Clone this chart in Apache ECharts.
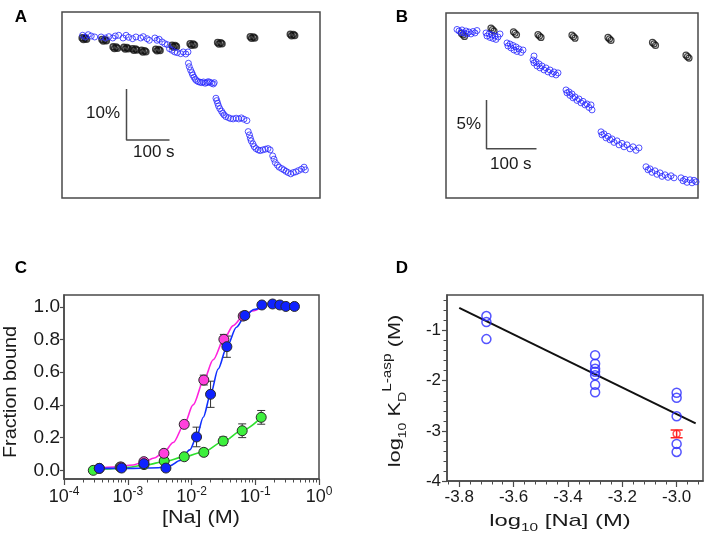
<!DOCTYPE html>
<html><head><meta charset="utf-8">
<script src="https://cdn.jsdelivr.net/npm/echarts@6/dist/echarts.min.js"></script>
<style>html,body{margin:0;padding:0;background:#fff}#c{width:709px;height:541px}</style>
</head><body><div id="c"></div>
<script>
// ---------- Panel A (time in s, signal change in %) ----------
const aBlueT = [48,54,61,68,76,91,101,109,118,124,132,142,149,155,164,172,183,189,198,203,216,221,226,233,239,245,250,256,262,268,276,282,288,293,
294,296,299,302,304,307,310,313,317,321,325,329,333,337,340,344,348,352,354,
358,360,362,364,367,371,374,377,381,387,392,398,405,411,417,423,430,
433,436,438,440,444,447,451,456,461,467,473,479,484,
490,493,496,501,505,511,516,521,526,532,538,544,550,557,563,566];
const aBlueV = [-0.27,-0.60,-0.15,-0.41,-0.60,-0.60,-0.80,-0.54,-0.80,-0.41,-0.27,-0.80,-0.27,-0.66,-0.94,-0.60,-0.80,-0.54,-0.94,-1.25,-0.80,-1.25,-1.05,-1.58,-1.92,-2.11,-2.90,-3.21,-3.54,-3.68,-3.88,-3.54,-3.94,-3.54,
-5.76,-6.43,-7.07,-7.60,-8.05,-8.50,-8.90,-9.17,-9.37,-9.48,-9.56,-9.43,-9.68,-9.56,-9.37,-9.48,-9.68,-9.82,-9.56,
-12.62,-13.09,-13.60,-14.13,-14.66,-15.17,-15.56,-15.90,-16.23,-16.43,-16.62,-16.68,-16.54,-16.68,-16.48,-16.74,-17.01,
-19.17,-19.82,-20.46,-20.99,-21.58,-22.11,-22.50,-22.76,-22.90,-22.76,-22.62,-22.50,-22.76,
-23.94,-24.58,-25.25,-25.76,-26.15,-26.43,-26.68,-26.97,-27.21,-27.46,-27.21,-27.07,-26.82,-26.54,-26.15,-26.68];
const aBlackT = [47,50,54,57, 93,96,100,103, 119,122,126,129, 144,147,151,154, 164,167,171,174, 185,188,192,195, 218,221,225,228, 256,259,263,266, 298,301,305,308, 362,365,369,372, 438,441,445,448, 531,534,538,541];
const aBlackV = [-0.78,-1.08,-0.83,-1.03, -1.10,-1.40,-1.15,-1.35, -2.55,-2.85,-2.60,-2.80, -2.65,-2.95,-2.70,-2.90, -2.90,-3.20,-2.95,-3.15, -3.24,-3.54,-3.29,-3.49, -3.00,-3.30,-3.05,-3.25, -2.25,-2.55,-2.30,-2.50, -1.92,-2.22,-1.97,-2.17, -1.69,-1.99,-1.74,-1.94, -0.55,-0.85,-0.60,-0.80, -0.06,-0.36,-0.11,-0.31];
const aScaleT = [150,150,250];
const aScaleV = [-10.8,-20.8,-20.8];

// ---------- Panel B ----------
const bBlueT = [22,26,30,32,36,40,42,46,50,54,58,62,
80,82,86,88,92,94,98,100,104,108,
122,124,128,130,134,136,140,142,146,150,154,
176,174,176,180,182,186,188,192,196,200,204,208,212,216,220,224,
240,242,246,248,252,254,258,262,266,270,274,278,282,286,290,292,
310,312,316,320,324,328,332,336,342,346,352,356,362,368,374,380,386,
400,404,408,412,418,422,428,432,438,444,450,456,
470,474,478,482,488,492,496,500];
const bBlueV = [0.02,-0.14,-0.29,-0.03,-0.34,-0.14,-0.44,-0.24,-0.44,-0.19,-0.34,-0.09,
-0.34,-0.65,-0.44,-0.80,-0.55,-0.90,-0.65,-1.00,-0.75,-0.44,
-1.36,-1.67,-1.47,-1.87,-1.62,-2.08,-1.77,-2.23,-1.97,-2.33,-2.08,
-2.69,-3.10,-3.40,-3.30,-3.71,-3.50,-3.91,-3.71,-4.12,-3.91,-4.32,-4.12,-4.52,-4.32,-4.63,-4.42,
-6.16,-6.46,-6.36,-6.72,-6.57,-6.97,-6.87,-7.23,-7.08,-7.48,-7.33,-7.69,-7.59,-7.95,-7.69,-8.20,
-10.44,-10.75,-10.65,-11.06,-10.90,-11.26,-11.16,-11.52,-11.36,-11.77,-11.62,-11.97,-11.77,-12.18,-11.97,-12.33,-12.08,
-14.01,-14.32,-14.22,-14.58,-14.42,-14.78,-14.63,-14.99,-14.83,-15.09,-14.93,-15.14,
-15.14,-15.44,-15.29,-15.60,-15.34,-15.65,-15.39,-15.55];
const bBlackT = [31,34,37, 90,93,96, 135,138,141, 184,187,190, 252,255,258, 324,327,330, 413,416,419, 480,483,486];
const bBlackV = [-0.39,-0.54,-0.69, 0.15,0.0,-0.15, -0.22,-0.37,-0.52, -0.50,-0.65,-0.80, -0.57,-0.72,-0.87, -0.80,-0.95,-1.10, -1.31,-1.46,-1.61, -2.61,-2.76,-2.91];
const bScaleT = [81,81,181];
const bScaleV = [-7.18,-12.18,-12.18];

// ---------- Panel C ([Na] in M, fraction bound) ----------
const concPink = [3.58e-4, 7.9e-4, 1.79e-3, 3.69e-3, 7.69e-3, 0.0156, 0.0322, 0.0647];
const fracPink = [0.012, 0.02, 0.053, 0.104, 0.281, 0.552, 0.801, 0.943];
const errPink  = [0.008, 0.008, 0.012, 0.012, 0.015, 0.03, 0.03, 0.015];
const concBlue = [3.58e-4, 8.0e-4, 1.79e-3, 3.97e-3, 0.0120, 0.0199, 0.0359, 0.0687, 0.127, 0.187, 0.243, 0.302, 0.412];
const fracBlue = [0.012, 0.014, 0.041, 0.014, 0.204, 0.465, 0.756, 0.947, 1.011, 1.017, 1.011, 1.002, 1.002];
const errBlue  = [0.005, 0.005, 0.01, 0.01, 0.06, 0.08, 0.065, 0.02, 0.01, 0, 0, 0, 0];
const concGreen = [2.88e-4, 7.6e-4, 1.8e-3, 3.73e-3, 7.69e-3, 0.0156, 0.0314, 0.0624, 0.124];
const fracGreen = [0.0, 0.02, 0.035, 0.057, 0.083, 0.110, 0.179, 0.242, 0.324];
const errGreen  = [0.005, 0.005, 0.005, 0.01, 0.012, 0.02, 0.025, 0.042, 0.042];
const fitPinkX = [3.3e-4, 6e-4, 1.22e-3, 1.79e-3, 2.6e-3, 3.69e-3, 5.17e-3, 7.69e-3, 0.0106, 0.0156, 0.0219, 0.0322, 0.0451, 0.0647, 0.09, 0.13];
const fitPinkY = [0.012, 0.02, 0.033, 0.052, 0.075, 0.11, 0.17, 0.28, 0.40, 0.552, 0.676, 0.801, 0.885, 0.943, 0.975, 1.0];
const fitBlueX = [3.0e-4, 1.2e-3, 3.0e-3, 4.6e-3, 6.6e-3, 9.4e-3, 0.012, 0.0153, 0.0199, 0.0262, 0.0359, 0.0508, 0.0687, 0.095, 0.13];
const fitBlueY = [0.012, 0.012, 0.016, 0.028, 0.06, 0.125, 0.204, 0.325, 0.465, 0.62, 0.756, 0.875, 0.943, 0.983, 1.0];
const fitGreenX = [2.9e-4, 5e-4, 1e-3, 2e-3, 3.73e-3, 7.69e-3, 0.0156, 0.0314, 0.0624, 0.124];
const fitGreenY = [0.003, 0.008, 0.018, 0.034, 0.054, 0.082, 0.114, 0.176, 0.245, 0.324];
const cExpTicks = [-4, -3, -2, -1, 0];
const cYTicks = [0, 0.2, 0.4, 0.6, 0.8, 1.0];

// ---------- Panel D ----------
const dX = [-3.7,-3.7,-3.7, -3.3,-3.3,-3.3,-3.3,-3.3,-3.3,-3.3, -3.0,-3.0,-3.0,-3.0,-3.0];
const dY = [-0.71,-0.83,-1.17, -1.49,-1.66,-1.76,-1.82,-1.89,-2.08,-2.23, -2.24,-2.34,-2.71,-3.26,-3.42];
const dRedX = [-3.0];
const dRedY = [-3.06];
const dRedErr = [0.077];
const dFitX = [-3.8, -2.93];
const dFitY = [-0.545, -2.85];
const dXTicks = [-3.8, -3.6, -3.4, -3.2, -3.0];
const dYTicks = [-4, -3, -2, -1];

// ---------- build ----------
const FONT = '"Liberation Sans", Arial, Helvetica, sans-serif';
const TXT = '#1a1a1a';
const FRAME = '#4a4a4a';
const zip = (a, b) => a.map((v, i) => [v, b[i]]);
const lg = v => Math.log10(v);

const cMinor = [];
for (let n = -4; n < 0; n++) for (let k = 2; k <= 9; k++) cMinor.push(n + Math.log10(k));
const dXMinor = [];
for (let i = 0; i <= 23; i++) dXMinor.push(+(-3.84 + i * 0.04).toFixed(2));
const dYMinor = [];
for (let i = 0; i <= 18; i++) dYMinor.push(+(-4 + i * 0.2).toFixed(1));

function errRenderer(color, cap, lw) {
  return function (params, api) {
    const x = api.value(0), lo = api.value(1), hi = api.value(2);
    const a = api.coord([x, lo]), b = api.coord([x, hi]);
    const st = { stroke: color, lineWidth: lw };
    return { type: 'group', children: [
      { type: 'line', shape: { x1: a[0], y1: a[1], x2: b[0], y2: b[1] }, style: st },
      { type: 'line', shape: { x1: a[0] - cap, y1: a[1], x2: a[0] + cap, y2: a[1] }, style: st },
      { type: 'line', shape: { x1: b[0] - cap, y1: b[1], x2: b[0] + cap, y2: b[1] }, style: st }
    ]};
  };
}
const errData = (xs, ys, es, tx) => xs.map((x, i) => [tx(x), ys[i] - es[i], ys[i] + es[i]]).filter((d, i) => es[i] > 0);

const gridBase = { show: true, borderColor: FRAME, borderWidth: 1.5, backgroundColor: 'transparent', containLabel: false, outerBoundsMode: 'none' };
const hiddenAx = (gi, mn, mx) => ({ gridIndex: gi, type: 'value', min: mn, max: mx, show: false, splitLine: { show: false } });
const tickLbl = { color: TXT, fontFamily: FONT };

const option = {
  animation: false,
  backgroundColor: '#fff',
  grid: [
    Object.assign({ left: 62, top: 12, width: 258, height: 186 }, gridBase),
    Object.assign({ left: 446, top: 13, width: 252, height: 185 }, gridBase),
    Object.assign({ left: 64, top: 295, width: 255, height: 184 }, gridBase),
    Object.assign({ left: 447, top: 295, width: 256, height: 186 }, gridBase)
  ],
  xAxis: [
    hiddenAx(0, 0, 600),
    hiddenAx(1, 0, 504),
    { gridIndex: 2, type: 'value', min: -4, max: 0, position: 'bottom',
      axisLine: { show: true, onZero: false, lineStyle: { color: FRAME, width: 1.5 } },
      splitLine: { show: false },
      axisTick: { show: true, length: 6, customValues: cExpTicks, lineStyle: { color: FRAME, width: 1.2 } },
      axisLabel: { customValues: cExpTicks, margin: 7, color: TXT,
        formatter: v => '{b|10}{s|' + v + '}',
        rich: { b: { fontSize: 18, fontFamily: FONT, color: TXT, lineHeight: 22 },
                s: { fontSize: 12, fontFamily: FONT, color: TXT, verticalAlign: 'top' } } } },
    { gridIndex: 2, type: 'value', min: -4, max: 0, position: 'bottom',
      axisLine: { show: false, onZero: false }, splitLine: { show: false }, axisLabel: { show: false },
      axisTick: { show: true, length: 3.5, customValues: cMinor, lineStyle: { color: FRAME, width: 1 } } },
    { gridIndex: 3, type: 'value', min: -3.845, max: -2.903, position: 'bottom',
      axisLine: { show: true, onZero: false, lineStyle: { color: FRAME, width: 1.5 } },
      splitLine: { show: false },
      axisTick: { show: true, length: 6, customValues: dXTicks, lineStyle: { color: FRAME, width: 1.2 } },
      axisLabel: Object.assign({ customValues: dXTicks, margin: 8, fontSize: 17, formatter: v => v.toFixed(1) }, tickLbl) },
    { gridIndex: 3, type: 'value', min: -3.845, max: -2.903, position: 'bottom',
      axisLine: { show: false, onZero: false }, splitLine: { show: false }, axisLabel: { show: false },
      axisTick: { show: true, length: 3.5, customValues: dXMinor, lineStyle: { color: FRAME, width: 1 } } }
  ],
  yAxis: [
    hiddenAx(0, -32.2, 4.3),
    hiddenAx(1, -17.2, 1.7),
    { gridIndex: 2, type: 'value', min: -0.053, max: 1.072, position: 'left',
      axisLine: { show: true, onZero: false, lineStyle: { color: FRAME, width: 1.5 } },
      splitLine: { show: false },
      axisTick: { show: true, length: 4, customValues: cYTicks, lineStyle: { color: FRAME, width: 1.2 } },
      axisLabel: Object.assign({ customValues: cYTicks, margin: 4, fontSize: 19, formatter: v => v.toFixed(1) }, tickLbl) },
    { gridIndex: 3, type: 'value', min: -4, max: -0.29, position: 'left',
      axisLine: { show: true, onZero: false, lineStyle: { color: FRAME, width: 1.5 } },
      splitLine: { show: false },
      axisTick: { show: true, length: 5, customValues: dYTicks, lineStyle: { color: FRAME, width: 1.2 } },
      axisLabel: Object.assign({ customValues: dYTicks, margin: 6, fontSize: 17 }, tickLbl) },
    { gridIndex: 3, type: 'value', min: -4, max: -0.29, position: 'left',
      axisLine: { show: false, onZero: false }, splitLine: { show: false }, axisLabel: { show: false },
      axisTick: { show: true, length: 3.5, customValues: dYMinor, lineStyle: { color: FRAME, width: 1 } } }
  ],
  series: [
    // Panel A
    { type: 'scatter', xAxisIndex: 0, yAxisIndex: 0, data: zip(aBlackT, aBlackV), symbolSize: 6,
      itemStyle: { color: 'rgba(255,255,255,0)', borderColor: '#111', borderWidth: 1.6 } },
    { type: 'scatter', xAxisIndex: 0, yAxisIndex: 0, data: zip(aBlueT, aBlueV), symbolSize: 6,
      itemStyle: { color: 'rgba(255,255,255,0)', borderColor: '#2828ff', borderWidth: 1 } },
    { type: 'line', xAxisIndex: 0, yAxisIndex: 0, data: zip(aScaleT, aScaleV), symbol: 'none',
      lineStyle: { color: FRAME, width: 1.5 } },
    // Panel B
    { type: 'scatter', xAxisIndex: 1, yAxisIndex: 1, data: zip(bBlackT, bBlackV), symbolSize: 6,
      itemStyle: { color: 'rgba(255,255,255,0)', borderColor: '#111', borderWidth: 1.2 } },
    { type: 'scatter', xAxisIndex: 1, yAxisIndex: 1, data: zip(bBlueT, bBlueV), symbolSize: 6,
      itemStyle: { color: 'rgba(255,255,255,0)', borderColor: '#2828ff', borderWidth: 1 } },
    { type: 'line', xAxisIndex: 1, yAxisIndex: 1, data: zip(bScaleT, bScaleV), symbol: 'none',
      lineStyle: { color: FRAME, width: 1.5 } },
    // Panel C error bars
    { type: 'custom', xAxisIndex: 2, yAxisIndex: 2, renderItem: errRenderer('#333', 4, 1), z: 1,
      encode: { x: 0, y: [1, 2] }, data: errData(concGreen, fracGreen, errGreen, lg) },
    { type: 'custom', xAxisIndex: 2, yAxisIndex: 2, renderItem: errRenderer('#333', 4, 1), z: 1,
      encode: { x: 0, y: [1, 2] }, data: errData(concPink, fracPink, errPink, lg) },
    { type: 'custom', xAxisIndex: 2, yAxisIndex: 2, renderItem: errRenderer('#333', 4, 1), z: 1,
      encode: { x: 0, y: [1, 2] }, data: errData(concBlue, fracBlue, errBlue, lg) },
    // Panel C fits
    { type: 'line', xAxisIndex: 2, yAxisIndex: 2, data: fitGreenX.map((x, i) => [lg(x), fitGreenY[i]]),
      symbol: 'none', smooth: 0.3, smoothMonotone: 'x', lineStyle: { color: '#2ee02e', width: 1.6 }, z: 2 },
    { type: 'line', xAxisIndex: 2, yAxisIndex: 2, data: fitPinkX.map((x, i) => [lg(x), fitPinkY[i]]),
      symbol: 'none', smooth: 0.3, smoothMonotone: 'x', lineStyle: { color: '#ff22dd', width: 1.6 }, z: 2 },
    { type: 'line', xAxisIndex: 2, yAxisIndex: 2, data: fitBlueX.map((x, i) => [lg(x), fitBlueY[i]]),
      symbol: 'none', smooth: 0.3, smoothMonotone: 'x', lineStyle: { color: '#1030ff', width: 1.6 }, z: 2 },
    // Panel C points
    { type: 'scatter', xAxisIndex: 2, yAxisIndex: 2, data: concGreen.map((x, i) => [lg(x), fracGreen[i]]),
      symbolSize: 10, itemStyle: { color: '#3df03d', borderColor: '#2a2a2a', borderWidth: 1, opacity: 1 }, z: 3 },
    { type: 'scatter', xAxisIndex: 2, yAxisIndex: 2, data: concPink.map((x, i) => [lg(x), fracPink[i]]),
      symbolSize: 10, itemStyle: { color: '#ff40dc', borderColor: '#2a2a2a', borderWidth: 1, opacity: 1 }, z: 3 },
    { type: 'scatter', xAxisIndex: 2, yAxisIndex: 2, data: concBlue.map((x, i) => [lg(x), fracBlue[i]]),
      symbolSize: 10, itemStyle: { color: '#0f22ff', borderColor: '#2a2a2a', borderWidth: 1, opacity: 1 }, z: 3 },
    // Panel D
    { type: 'line', xAxisIndex: 4, yAxisIndex: 3, data: zip(dFitX, dFitY), symbol: 'none',
      lineStyle: { color: '#111', width: 2 }, z: 2 },
    { type: 'scatter', xAxisIndex: 4, yAxisIndex: 3, data: zip(dX, dY), symbolSize: 9,
      itemStyle: { color: 'rgba(255,255,255,0)', borderColor: '#2a2aff', borderWidth: 1.5 }, z: 3 },
    { type: 'custom', xAxisIndex: 4, yAxisIndex: 3, renderItem: errRenderer('#ff2020', 6, 1.5), z: 3,
      encode: { x: 0, y: [1, 2] }, data: errData(dRedX, dRedY, dRedErr, v => v) },
    { type: 'scatter', xAxisIndex: 4, yAxisIndex: 3, data: zip(dRedX, dRedY), symbolSize: 7,
      itemStyle: { color: 'rgba(255,255,255,0)', borderColor: '#ff2020', borderWidth: 1.5 }, z: 4 }
  ],
  graphic: [
    { type: 'text', x: 21, y: 17, style: { text: 'A', fontSize: 17, fontWeight: 'bold', fontFamily: FONT, fill: '#000', align: 'center', verticalAlign: 'middle' } },
    { type: 'text', x: 402, y: 17, style: { text: 'B', fontSize: 17, fontWeight: 'bold', fontFamily: FONT, fill: '#000', align: 'center', verticalAlign: 'middle' } },
    { type: 'text', x: 21, y: 268, style: { text: 'C', fontSize: 17, fontWeight: 'bold', fontFamily: FONT, fill: '#000', align: 'center', verticalAlign: 'middle' } },
    { type: 'text', x: 402, y: 268, style: { text: 'D', fontSize: 17, fontWeight: 'bold', fontFamily: FONT, fill: '#000', align: 'center', verticalAlign: 'middle' } },
    { type: 'text', x: 120, y: 113, style: { text: '10%', fontSize: 17, fontFamily: FONT, fill: TXT, align: 'right', verticalAlign: 'middle' } },
    { type: 'text', x: 133, y: 152, style: { text: '100 s', fontSize: 17, fontFamily: FONT, fill: TXT, align: 'left', verticalAlign: 'middle' } },
    { type: 'text', x: 481, y: 124, style: { text: '5%', fontSize: 17, fontFamily: FONT, fill: TXT, align: 'right', verticalAlign: 'middle' } },
    { type: 'text', x: 490, y: 164, style: { text: '100 s', fontSize: 17, fontFamily: FONT, fill: TXT, align: 'left', verticalAlign: 'middle' } },
    { type: 'text', x: 11, y: 392, rotation: Math.PI / 2, scaleX: 1.1, style: { text: 'Fraction bound', fontSize: 18, fontFamily: FONT, fill: TXT, align: 'center', verticalAlign: 'middle' } },
    { type: 'text', x: 201, y: 518, scaleX: 1.2, style: { text: '[Na] (M)', fontSize: 18, fontFamily: FONT, fill: TXT, align: 'center', verticalAlign: 'middle' } },
    { type: 'text', x: 395, y: 391, rotation: Math.PI / 2, scaleX: 1.28, style: {
        text: '{n|log}{s|10}{n| K}{s|D}{p|L-asp}{n| (M)}', align: 'center', verticalAlign: 'middle',
        rich: { n: { fontSize: 17, fontFamily: FONT, fill: TXT, lineHeight: 26 },
                s: { fontSize: 11, fontFamily: FONT, fill: TXT, verticalAlign: 'bottom' },
                p: { fontSize: 12, fontFamily: FONT, fill: TXT, verticalAlign: 'top' } } } },
    { type: 'text', x: 560, y: 521, scaleX: 1.4, style: {
        text: '{n|log}{s|10}{n| [Na] (M)}', align: 'center', verticalAlign: 'middle',
        rich: { n: { fontSize: 17, fontFamily: FONT, fill: TXT, lineHeight: 24 },
                s: { fontSize: 11, fontFamily: FONT, fill: TXT, verticalAlign: 'bottom' } } } }
  ]
};
const chart = echarts.init(document.getElementById('c'));
chart.setOption(option);
</script></body></html>
